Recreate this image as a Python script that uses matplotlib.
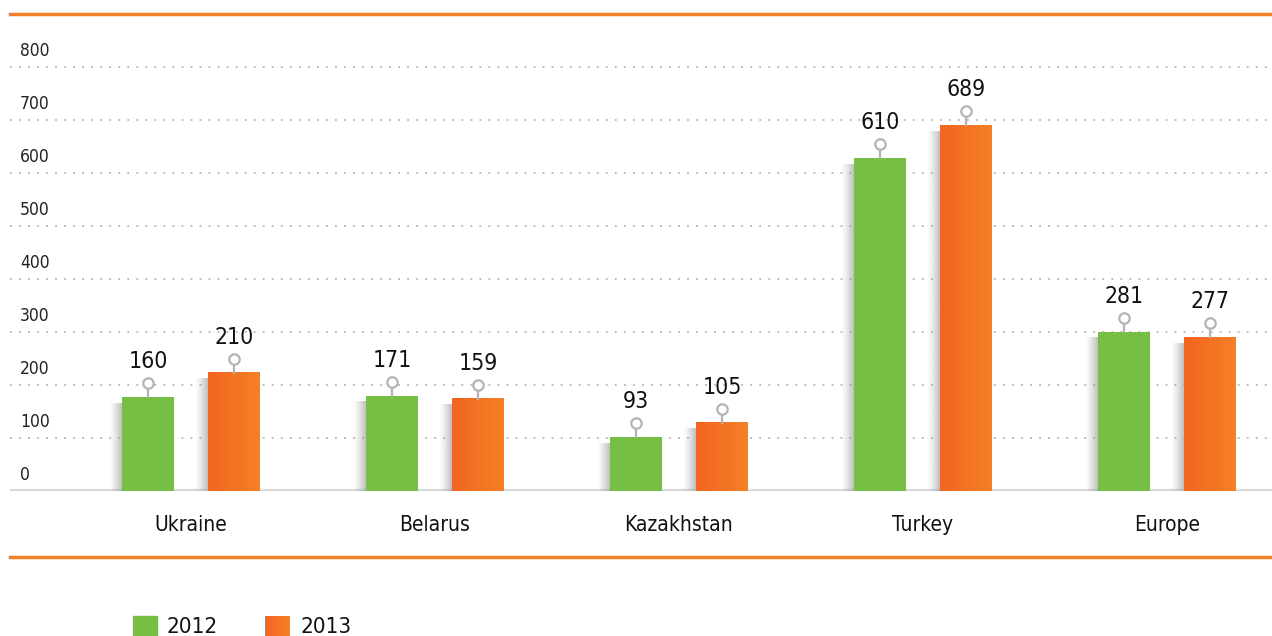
import numpy as np
import matplotlib.pyplot as plt
from matplotlib.patches import Rectangle
from matplotlib.lines import Line2D
from matplotlib.colors import to_rgb

plt.rcParams['font.family'] = ['DejaVu Sans']
plt.rcParams['font.stretch'] = 'condensed'

countries = ["Ukraine", "Belarus", "Kazakhstan", "Turkey", "Europe"]
years = ["2012", "2013"]
# bar heights as drawn in the picture (axis units)
bars_2012 = [177, 180, 101, 627, 300]
bars_2013 = [223, 174, 129, 689, 290]
# values printed above the bars
labels_2012 = [160, 171, 93, 610, 281]
labels_2013 = [210, 159, 105, 689, 277]
yticks = [0, 100, 200, 300, 400, 500, 600, 700, 800]

green = "#76bf43"
orange_dark = "#f26522"
orange_light = "#f58025"
line_orange = "#f47f24"

W, H = 1272, 636
fig = plt.figure(figsize=(W / 100, H / 100), dpi=100)
ax = fig.add_axes([10 / W, (H - 491) / H, 1262 / W, (491 - 14) / H])

px_y = 100 / 53.05  # data units per pixel (vertical)
px_x = 1 / 244      # data units per pixel (horizontal)
ax.set_xlim((10 - 191) * px_x, (1272 - 191) * px_x)
ax.set_ylim(0, 477 * px_y)
ax.axis("off")

x = np.arange(len(countries))
bw = 51.5 * px_x
off = 43 * px_x

# grid
for v in yticks[1:]:
    ax.plot([ax.get_xlim()[0], ax.get_xlim()[1]], [v, v], color="#b5b5b5",
            lw=1.3, linestyle=(0, (1, 4)), zorder=0)
ax.axhline(0, color="#d9d9d9", lw=3, zorder=1)
for v in yticks:
    ax.text(ax.get_xlim()[0] + 10 * px_x, v + 16 * px_y, str(v), fontsize=12.5,
            color="#222222", va="center", ha="left")

# shadow gradient
sh = np.zeros((1, 64, 4))
sh[0, :, :3] = 0.6
sh[0, :, 3] = np.linspace(0, 0.7, 64) ** 1.3

def draw_bar(xc, h, color, grad=None):
    left = xc - bw / 2
    ax.imshow(sh, extent=[left - 13 * px_x, left, 0, h - 6 * px_y],
              aspect="auto", zorder=2, interpolation="bilinear")
    if grad is None:
        ax.bar(xc, h, bw, color=color, zorder=3)
    else:
        c1, c2 = np.array(to_rgb(grad[0])), np.array(to_rgb(grad[1]))
        g = np.linspace(0, 1, 64)[None, :, None]
        img = c1 * (1 - g) + c2 * g
        ax.imshow(img, extent=[left, left + bw, 0, h], aspect="auto",
                  zorder=3, interpolation="bilinear")

def draw_label(xc, h, val):
    ax.plot([xc, xc], [h, h + 9 * px_y], color="#b4b4b4", lw=1.6, zorder=4)
    ax.plot(xc, h + 14 * px_y, marker="o", ms=7.5, mfc="white", mec="#b4b4b4",
            mew=1.6, zorder=5)
    ax.text(xc, h + 29 * px_y, str(val), fontsize=16.5, ha="center",
            va="baseline", color="#111111", zorder=5)

for i in range(len(countries)):
    draw_bar(x[i] - off, bars_2012[i], green)
    draw_bar(x[i] + off, bars_2013[i], None, grad=(orange_dark, orange_light))
    draw_label(x[i] - off, bars_2012[i], labels_2012[i])
    draw_label(x[i] + off, bars_2013[i], labels_2013[i])
    ax.text(x[i], -34 * px_y, countries[i], fontsize=15, ha="center",
            va="center", color="#111111", clip_on=False)

ax.set_xlim((10 - 191) * px_x, (1272 - 191) * px_x)
ax.set_ylim(0, 477 * px_y)

# orange rules
for yy in (14, 557):
    fig.add_artist(Line2D([10 / W, 1], [1 - yy / H, 1 - yy / H],
                          color=line_orange, lw=2.5))

# legend
fig.add_artist(Rectangle((133 / W, 0), 24 / W, (H - 616) / H,
                         color=green, transform=fig.transFigure))
lax = fig.add_axes([265 / W, 0, 25 / W, (H - 616) / H])
g = np.linspace(0, 1, 64)[None, :, None]
lax.imshow(np.array(to_rgb(orange_dark)) * (1 - g) + np.array(to_rgb(orange_light)) * g,
           aspect="auto", extent=[0, 1, 0, 1])
lax.axis("off")
fig.text(167 / W, 1 - 633 / H, years[0], fontsize=16, va="baseline", ha="left",
         color="#111111")
fig.text(300 / W, 1 - 633 / H, years[1], fontsize=16, va="baseline", ha="left",
         color="#111111")

fig.savefig("out.png", dpi=100)
